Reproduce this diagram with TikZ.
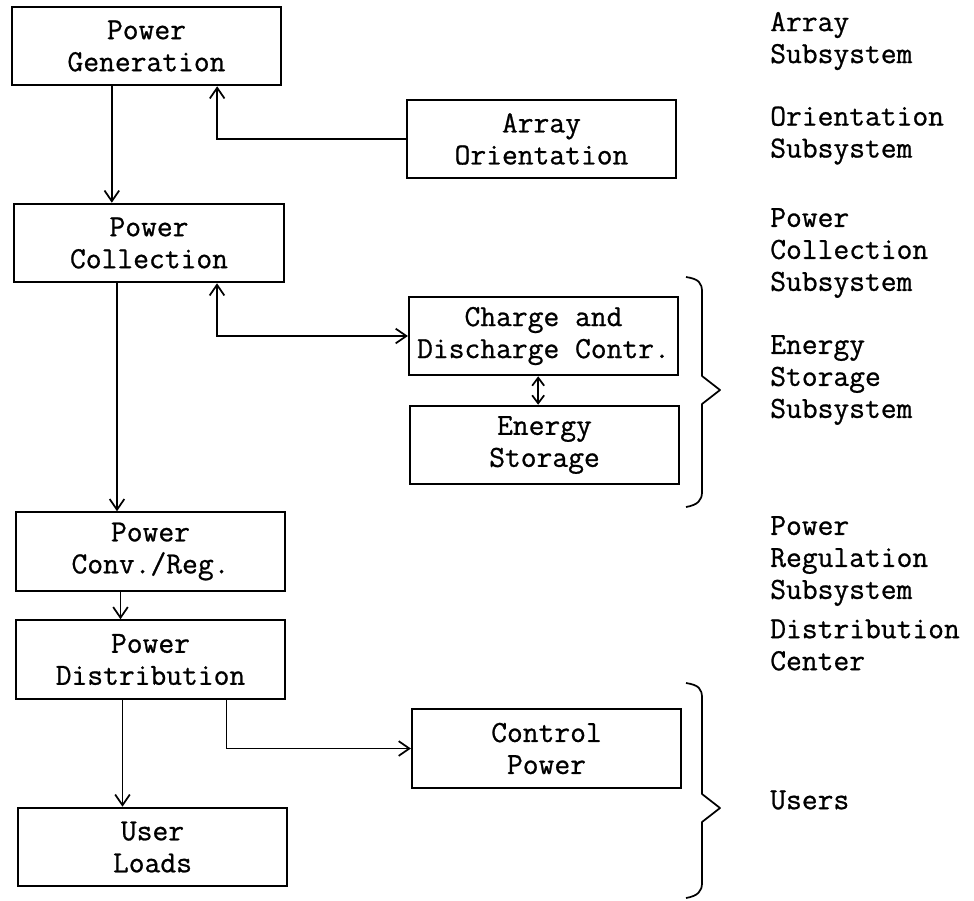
\documentclass[tikz,border=0pt]{standalone}
\usepackage{fontspec}
\newfontfamily\typer{Latin Modern Mono}[FakeBold=0.8]
\usetikzlibrary{arrows.meta}

\begin{document}
\begin{tikzpicture}[x=0.75pt,y=0.75pt,yscale=-1,xscale=1,
  blk/.style={draw, line width=1.4pt, inner sep=0pt, minimum width=202pt, minimum height=59pt, align=center, font=\typer\fontsize{23}{24}\selectfont},
  flow/.style={line width=1.3pt, -{Straight Barb[length=8pt,width=11pt]}},
  lbl/.style={anchor=west, inner sep=0pt, align=left, font=\typer\fontsize{23}{24}\selectfont},
  brc/.style={line width=1.3pt, line join=round}]
\useasboundingbox (0,0) rectangle (974,900);

%Box: Power Generation
\node[blk] (gen) at (146.5,46) {Power\\Generation};
%Box: Array Orientation
\node[blk] (arr) at (541.5,139) {Array\\Orientation};
%Box: Power Collection
\node[blk] (col) at (149,243) {Power\\Collection};
%Box: Charge and Discharge Contr.
\node[blk] (chg) at (543.5,336) {Charge and\\Discharge Contr.};
%Box: Energy Storage
\node[blk] (stor) at (544.5,445) {Energy\\Storage};
%Box: Power Conv./Reg.
\node[blk] (conv) at (150.5,551.5) {Power\\Conv./Reg.};
%Box: Power Distribution
\node[blk] (dist) at (150.5,659.5) {Power\\Distribution};
%Box: Control Power
\node[blk] (ctrl) at (546.5,748.5) {Control\\Power};
%Box: User Loads
\node[blk] (load) at (152.5,847) {User\\Loads};

%Arrows
\draw[flow] ([xshift=-26pt]gen.south) -- ([xshift=-26pt]gen.south |- col.north);
\draw[flow] (arr.west) -| ([xshift=53pt]gen.south);
\draw[flow] ([xshift=-24pt]col.south) -- ([xshift=-24pt]col.south |- conv.north);
\draw[flow, {Straight Barb[length=8pt,width=11pt]}-{Straight Barb[length=8pt,width=11pt]}] ([xshift=51pt]col.south) |- (chg.west);
\draw[flow, {Straight Barb[length=6pt,width=9pt]}-{Straight Barb[length=6pt,width=9pt]}] ([xshift=-4pt]chg.south) -- ([xshift=-4pt]chg.south |- stor.north);
\draw[flow] ([xshift=-22.5pt]conv.south) -- ([xshift=-22.5pt]conv.south |- dist.north);
\draw[flow] ([xshift=-21pt]dist.south) -- ([xshift=-21pt]dist.south |- load.north);
\draw[flow] ([xshift=57pt]dist.south) |- (ctrl.west);

%Brace: storage group
\draw[brc] (686,277) .. controls (699,279) and (702,283) .. (702,292) -- (702,376) -- (720,390) -- (702,404) -- (702,492) .. controls (702,500) and (698,505) .. (686,507);
%Brace: users group
\draw[brc] (686,683) .. controls (699,685) and (702,689) .. (702,698) -- (702,794) -- (720,808) -- (702,822) -- (702,883) .. controls (702,891) and (698,896) .. (686,898);

% Text Node
\node[lbl] (arrsub) at (770,41) {Array\\Subsystem};
% Text Node
\node[lbl] (orisub) at (770,135.5) {Orientation\\Subsystem};
% Text Node
\node[lbl] (colsub) at (770,253) {Power\\Collection\\Subsystem};
% Text Node
\node[lbl] (storsub) at (770,380) {Energy\\Storage\\Subsystem};
% Text Node
\node[lbl] (regsub) at (770,561) {Power\\Regulation\\Subsystem};
% Text Node
\node[lbl] (distctr) at (770,645) {Distribution\\Center};
% Text Node
\node[lbl] (users) at (770,800) {Users};

\end{tikzpicture}
\end{document}
